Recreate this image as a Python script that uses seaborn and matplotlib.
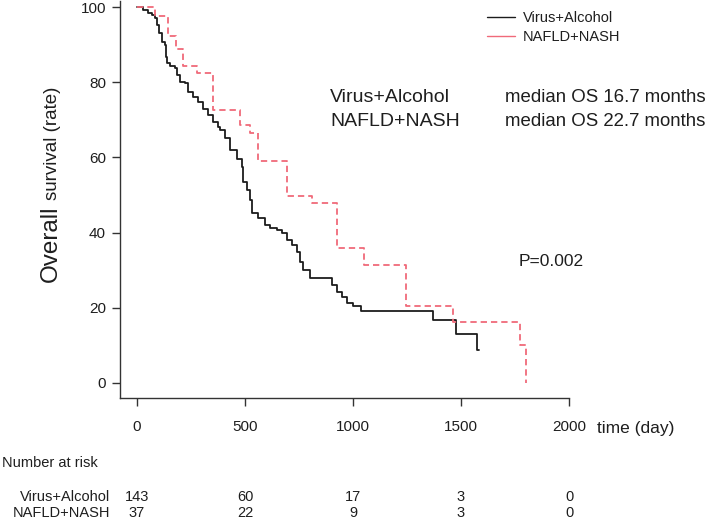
import matplotlib
matplotlib.use("Agg")
import matplotlib.pyplot as plt
import seaborn as sns
import pandas as pd
from matplotlib.lines import Line2D
from matplotlib.transforms import blended_transform_factory

# ---------------- data ----------------
vir_days = [0, 29, 52, 68, 83, 91, 103, 114, 130, 134, 140, 153, 176, 184, 199, 222,
            238, 261, 284, 307, 330, 353, 376, 384, 407, 431, 461, 485, 492, 508, 523,
            531, 562, 593, 616, 647, 670, 693, 716, 739, 755, 770, 801, 905, 925, 948,
            971, 998, 1035, 1372, 1477, 1573, 1583]
vir_surv = [100, 99.2, 98.5, 97.9, 97.0, 95.2, 93.0, 90.8, 89.9, 86.8, 85.0, 84.4, 83.7,
            81.9, 80.1, 79.7, 77.5, 76.1, 74.8, 73.0, 71.3, 69.5, 68.2, 67.3, 65.1, 62.0,
            59.7, 57.5, 53.5, 51.3, 48.7, 45.1, 43.8, 42.0, 41.1, 40.7, 39.8, 38.0, 36.7,
            34.9, 32.3, 30.1, 27.8, 26.1, 24.3, 22.8, 21.2, 20.4, 19.2, 16.8, 12.9, 8.8, 8.8]

naf_days = [0, 83, 145, 180, 211, 276, 350, 477, 523, 562, 694, 810, 924, 1053, 1245,
            1464, 1775, 1802]
naf_surv = [100, 97.5, 92.2, 88.8, 84.2, 82.4, 72.6, 68.5, 66.4, 59.0, 49.6, 47.8, 35.9,
            31.3, 20.6, 16.3, 10.2, 0]

groups = ["Virus+Alcohol", "NAFLD+NASH"]
medians = ["median OS 16.7 months", "median OS 22.7 months"]
p_text = "P=0.002"

x_ticks = [0, 500, 1000, 1500, 2000]
y_ticks = [0, 20, 40, 60, 80, 100]
risk_times = [0, 500, 1000, 1500, 2000]
vir_risk = [143, 60, 17, 3, 0]
naf_risk = [37, 22, 9, 3, 0]

# ---------------- style ----------------
sns.set_theme(style="white")
plt.rcParams["font.family"] = ["Liberation Sans", "DejaVu Sans"]
TXT = "#1e1e1e"
BLACK = "#1c1c1c"
RED = "#f06a7a"

W, H = 709, 520
fig = plt.figure(figsize=(W / 100, H / 100), dpi=100)


def fx(px):
    return px / W


def fy(py):
    return 1 - py / H


ax = fig.add_axes([fx(120), fy(398), fx(569) - fx(120), fy(1) - fy(398)])

df_v = pd.DataFrame({"day": vir_days, "surv": vir_surv})
df_n = pd.DataFrame({"day": naf_days, "surv": naf_surv})
sns.lineplot(data=df_v, x="day", y="surv", drawstyle="steps-post", estimator=None,
             color=BLACK, lw=1.3, ax=ax)
sns.lineplot(data=df_n, x="day", y="surv", drawstyle="steps-post", estimator=None,
             color=RED, lw=1.3, linestyle=(0, (3.5, 2.2)), ax=ax)

ax.set_xlim(-78.7, 2000)
ax.set_ylim(-4, 101.6)
ax.set_xlabel("")
ax.set_ylabel("")
ax.set_xticks(x_ticks)
ax.set_yticks(y_ticks)
ax.set_xticklabels([str(t) for t in x_ticks])
ax.set_yticklabels([str(t) for t in y_ticks])
for s in ["top", "right"]:
    ax.spines[s].set_visible(False)
for s in ["left", "bottom"]:
    ax.spines[s].set_color("#333333")
    ax.spines[s].set_linewidth(1.0)
ax.tick_params(axis="both", which="major", bottom=True, left=True, direction="out",
               length=6, width=1.0, color="#333333", labelcolor=TXT, labelsize=11)
ax.tick_params(axis="x", pad=10)
ax.tick_params(axis="y", pad=4)
ax.grid(False)
if ax.get_legend() is not None:
    ax.get_legend().remove()

# legend
handles = [Line2D([], [], color=BLACK, lw=1.0), Line2D([], [], color=RED, lw=1.0)]
fig.legend(handles, groups, loc="upper left", bbox_to_anchor=(fx(487), fy(11)),
           frameon=False, fontsize=10.5, handlelength=1.9, handletextpad=0.55,
           labelspacing=0.35, borderpad=0, borderaxespad=0, labelcolor=TXT)

# annotation text
for i, (g, m) in enumerate(zip(groups, medians)):
    yy = 97 + i * 24
    fig.text(fx(330), fy(yy), g, fontsize=14, va="center", ha="left", color=TXT)
    fig.text(fx(505), fy(yy), m, fontsize=13.4, va="center", ha="left", color=TXT)
fig.text(fx(519), fy(262), p_text, fontsize=12.5, va="center", ha="left", color=TXT)

# y label: "Overall" larger, "survival (rate)" smaller
t1 = fig.text(fx(57), fy(282), "Overall", fontsize=17.5, rotation=90,
              rotation_mode="anchor", ha="left", va="baseline", color=TXT)
fig.canvas.draw()
bb = t1.get_window_extent()
top_px = H - bb.y1
fig.text(fx(57), fy(top_px - 5), "survival (rate)", fontsize=13.5, rotation=90,
         rotation_mode="anchor", ha="left", va="baseline", color=TXT)

# x label
fig.text(fx(597), fy(428), "time (day)", fontsize=12.5, va="center", ha="left", color=TXT)

# number at risk table
fig.text(fx(2), fy(463), "Number at risk", fontsize=10.5, va="center", ha="left", color=TXT)
trans = blended_transform_factory(ax.transData, fig.transFigure)
for row_y, g, risk in [(497, groups[0], vir_risk), (513, groups[1], naf_risk)]:
    fig.text(fx(110), fy(row_y), g, fontsize=10.5, va="center", ha="right", color=TXT)
    for t, n in zip(risk_times, risk):
        ax.text(t, fy(row_y), str(n), transform=trans, fontsize=10.5, va="center",
                ha="center", color=TXT, clip_on=False)

fig.savefig("out.png", dpi=100)
